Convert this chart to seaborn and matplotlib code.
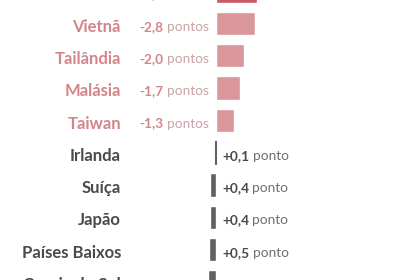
import matplotlib
matplotlib.use("Agg")
import matplotlib.pyplot as plt
import matplotlib.transforms as mtransforms
import seaborn as sns
import pandas as pd

countries = ["China", "Vietnã", "Tailândia", "Malásia", "Taiwan",
             "Irlanda", "Suíça", "Japão", "Países Baixos", "Coreia do Sul"]
changes = [-2.9, -2.8, -2.0, -1.7, -1.3, 0.1, 0.4, 0.4, 0.5, 0.6]
value_labels = ["-2,9", "-2,8", "-2,0", "-1,7", "-1,3", "+0,1", "+0,4", "+0,4", "+0,5", "+0,6"]
unit_labels = ["pontos", "pontos", "pontos", "pontos", "pontos",
               "ponto", "ponto", "ponto", "ponto", "ponto"]

df = pd.DataFrame({"country": countries, "change": changes})

NEG_BAR = "#d9969b"
TOP_BAR = "#c95a63"
POS_BAR = "#616161"
NEG_TXT = "#d4858b"
TOP_TXT = "#c95a63"
POS_TXT = "#4a4a4a"
NEG_UNIT = "#c9a3a6"
POS_UNIT = "#6e6e6e"

bar_colors = []
for i, v in enumerate(changes):
    if i == 0:
        bar_colors.append(TOP_BAR)
    elif v < 0:
        bar_colors.append(NEG_BAR)
    else:
        bar_colors.append(POS_BAR)

sns.set_theme(style="white")
plt.rcParams["font.family"] = ["Lato", "DejaVu Sans"]

fig = plt.figure(figsize=(4.2, 2.8), dpi=100)
fig.patch.set_facecolor("white")
ax = fig.add_axes([0, 0, 1, 1])
sns.barplot(data=df, x="change", y="country", hue="country", palette=bar_colors,
            legend=False, orient="h", width=0.72, ax=ax, saturation=1)

# make very thin bars still visible as a hairline
for p, v in zip(ax.patches, changes):
    if abs(v) < 0.2:
        p.set_edgecolor(p.get_facecolor())
        p.set_linewidth(0.8)

ax.set_xlim(15.32, -14.47)
ax.set_ylim(8.94, 0.272)
for s in ax.spines.values():
    s.set_visible(False)
ax.set_xticks([])
ax.set_yticks([])
ax.set_xlabel("")
ax.set_ylabel("")

trans = mtransforms.blended_transform_factory(ax.transAxes, ax.transData)
fig.canvas.draw()

for i, (name, v, num, unit) in enumerate(zip(countries, changes, value_labels, unit_labels)):
    yn = i + 0.25
    yv = i + 0.22
    if v < 0:
        ncol = TOP_TXT if i == 0 else NEG_TXT
        ax.text(0.288, yn, name, transform=trans, ha="right", va="baseline",
                fontsize=12, fontweight="bold", color=ncol)
        ut = ax.text(0.4976, yv, unit, transform=trans, ha="right", va="baseline",
                     fontsize=9.8, color=NEG_UNIT)
        ax.annotate(num, xy=(0, 0.5), xycoords=ut, xytext=(-2.5, 0),
                    textcoords="offset points", ha="right", va="center",
                    fontsize=9.8, fontweight="bold", color=ncol)
    else:
        ax.text(0.288, yn, name, transform=trans, ha="right", va="baseline",
                fontsize=12, fontweight="bold", color=POS_TXT)
        nt = ax.text(0.5286, yv, num, transform=trans, ha="left", va="baseline",
                     fontsize=9.8, fontweight="bold", color=POS_TXT)
        ax.annotate(unit, xy=(1, 0.5), xycoords=nt, xytext=(2.5, 0),
                    textcoords="offset points", ha="left", va="center",
                    fontsize=9.8, color=POS_UNIT)

fig.savefig("out.png", dpi=100, facecolor="white")
